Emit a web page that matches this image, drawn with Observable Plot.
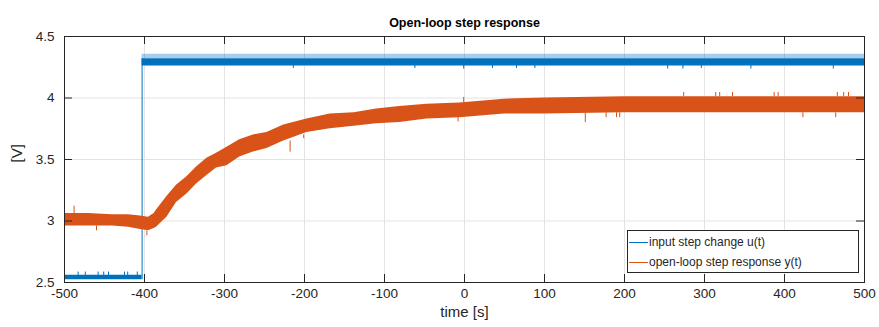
<!DOCTYPE html>
<html><head><meta charset="utf-8">
<script src="https://cdn.jsdelivr.net/npm/d3@7"></script>
<script src="https://cdn.jsdelivr.net/npm/@observablehq/plot@0.6"></script>
<style>
body{margin:0;background:#fff;}
#wrap{position:relative;width:879px;height:327px;font-family:"Liberation Sans",Arial,Helvetica,sans-serif;}
#legend{position:absolute;left:627px;top:230px;width:232px;height:43px;border:1px solid #262626;background:#fff;font-size:12px;color:#262626;box-sizing:border-box;}
.item{position:absolute;left:1px;height:16px;display:flex;align-items:center;white-space:nowrap;}
.swatch{width:19px;height:0;border-top:1px solid;margin-right:1px;}
</style></head>
<body><div id="wrap"><div id="legend"></div></div>
<script>
// ---- texts ----
const title = "Open-loop step response";
const xLabel = "time [s]";
const yLabel = "[V]";
const seriesNames = ["input step change u(t)", "open-loop step response y(t)"];
const seriesColors = ["#0072BD", "#D95319"];

// ---- ticks ----
const xTicks = [-500, -400, -300, -200, -100, 0, 100, 200, 300, 400, 500];
const xTickLabels = ["-500", "-400", "-300", "-200", "-100", "0", "100", "200", "300", "400", "500"];
const yTicks = [2.5, 3, 3.5, 4, 4.5];
const yTickLabels = ["2.5", "3", "3.5", "4", "4.5"];

// ---- input u(t): noisy band (lower / upper envelope) ----
const stepTime = -403;
const uLowT = [-500, -403];
const uLowLo = [2.523, 2.523];
const uLowHi = [2.558, 2.558];
const uHighT = [-403, 500];
const uHighLo = [4.26, 4.26];
const uHighHi = [4.32, 4.32];
const uFuzzHi = [4.355, 4.355];
// isolated spikes of u(t)
const uSpikeT  = [-483, -474, -458, -451, -445, -425, -421, -409, -214, -62, -1, 35, 65, 88, 254, 273, 296, 358, 461];
const uSpikeY1 = [2.55, 2.55, 2.55, 2.55, 2.55, 2.55, 2.55, 2.55, 4.27, 4.27, 4.27, 4.27, 4.27, 4.27, 4.27, 4.27, 4.27, 4.27, 4.27];
const uSpikeY2 = [2.585, 2.585, 2.585, 2.585, 2.585, 2.585, 2.585, 2.585, 4.24, 4.24, 4.235, 4.24, 4.24, 4.24, 4.235, 4.235, 4.24, 4.235, 4.235];

// ---- output y(t): noisy band (lower / upper envelope) ----
const yT  = [-500, -470, -440, -420, -405, -395, -388, -385, -372, -360, -347, -335, -322, -310, -297, -281, -264, -247, -226, -197, -168, -138, -110, -81, -47, -6, 50, 100, 200, 300, 400, 500];
const yLo = [2.96, 2.96, 2.96, 2.95, 2.93, 2.92, 2.94, 2.95, 3.03, 3.15, 3.22, 3.30, 3.37, 3.43, 3.45, 3.52, 3.56, 3.59, 3.65, 3.72, 3.75, 3.77, 3.79, 3.80, 3.83, 3.84, 3.87, 3.87, 3.88, 3.88, 3.88, 3.88];
const yHi = [3.06, 3.06, 3.05, 3.05, 3.04, 3.03, 3.06, 3.09, 3.20, 3.29, 3.36, 3.44, 3.51, 3.55, 3.60, 3.66, 3.70, 3.72, 3.78, 3.83, 3.87, 3.88, 3.91, 3.93, 3.95, 3.96, 3.99, 4.00, 4.01, 4.01, 4.01, 4.01];
// isolated spikes of y(t)
const ySpikeT  = [-488, -460, -397, -218, -201, -8, -1, 151, 177, 190, 194, 274, 314, 319, 335, 387, 392, 423, 464, 466, 474, 480];
const ySpikeY1 = [3.06, 2.96, 2.92, 3.65, 3.70, 3.84, 3.96, 3.88, 3.88, 3.88, 3.88, 4.01, 4.01, 4.01, 4.01, 4.01, 4.01, 3.88, 3.88, 4.01, 4.01, 4.01];
const ySpikeY2 = [3.12, 2.92, 2.88, 3.56, 3.67, 3.806, 4.005, 3.80, 3.84, 3.84, 3.84, 4.045, 4.045, 4.045, 4.045, 4.045, 4.045, 3.84, 3.84, 4.045, 4.045, 4.045];

// ---- build tables ----
const uBand = [
  ...uLowT.map((t, i) => ({t, lo: uLowLo[i], hi: uLowHi[i], seg: "low"})),
  ...uHighT.map((t, i) => ({t, lo: uHighLo[i], hi: uHighHi[i], seg: "high"}))
];
const uFuzz = uHighT.map((t, i) => ({t, lo: uHighHi[i], hi: uFuzzHi[i]}));
const uSpikes = uSpikeT.map((t, i) => ({t, y1: uSpikeY1[i], y2: uSpikeY2[i]}));
const yBand = yT.map((t, i) => ({t, lo: yLo[i], hi: yHi[i]}));
const ySpikes = ySpikeT.map((t, i) => ({t, y1: ySpikeY1[i], y2: ySpikeY2[i]}));

const W = 879, H = 327, mL = 64, mR = 15, mT = 36, mB = 45;
const fw = W - mL - mR, fh = H - mT - mB, tickLen = 8;
const ink = "#262626", gridColor = "#e3e3e3";

const chart = Plot.plot({
  width: W, height: H,
  marginLeft: mL, marginRight: mR, marginTop: mT, marginBottom: mB,
  style: {fontFamily: '"Liberation Sans", Arial, Helvetica, sans-serif', fontSize: "13px", color: ink, background: "#fff", overflow: "visible"},
  x: {domain: [-500, 500], ticks: xTicks},
  y: {domain: [2.5, 4.5], ticks: yTicks},
  marks: [
    Plot.gridX(xTicks, {stroke: gridColor, strokeOpacity: 1}),
    Plot.gridY(yTicks, {stroke: gridColor, strokeOpacity: 1}),
    // input u(t)
    Plot.ruleX([stepTime], {y1: uLowLo[0], y2: uHighHi[0], stroke: seriesColors[0], strokeWidth: 1}),
    Plot.areaY(uFuzz, {x: "t", y1: "lo", y2: "hi", fill: seriesColors[0], fillOpacity: 0.35}),
    Plot.areaY(uBand, {x: "t", y1: "lo", y2: "hi", z: "seg", fill: seriesColors[0]}),
    Plot.ruleX(uSpikes, {x: "t", y1: "y1", y2: "y2", stroke: seriesColors[0], strokeWidth: 1}),
    // output y(t)
    Plot.areaY(yBand, {x: "t", y1: "lo", y2: "hi", fill: seriesColors[1]}),
    Plot.ruleX(ySpikes, {x: "t", y1: "y1", y2: "y2", stroke: seriesColors[1], strokeWidth: 1}),
    // box and inward ticks
    Plot.frame({stroke: ink, strokeWidth: 1}),
    Plot.tickX(xTicks, {x: d => d, stroke: ink, insetTop: fh - tickLen}),
    Plot.tickX(xTicks, {x: d => d, stroke: ink, insetBottom: fh - tickLen}),
    Plot.tickY(yTicks, {y: d => d, stroke: ink, insetRight: fw - tickLen}),
    Plot.tickY(yTicks, {y: d => d, stroke: ink, insetLeft: fw - tickLen}),
    Plot.axisX(xTicks, {tickSize: 0, tickPadding: 6, fontSize: 13.5, label: null, tickFormat: d => xTickLabels[xTicks.indexOf(d)]}),
    Plot.axisY(yTicks, {tickSize: 0, tickPadding: 10, fontSize: 13.5, label: null, tickFormat: d => yTickLabels[yTicks.indexOf(d)]}),
    // labels
    Plot.text([title], {text: d => d, frameAnchor: "top", dy: -18, fontWeight: "bold", fontSize: 12.5, fill: "#000"}),
    Plot.text([xLabel], {text: d => d, frameAnchor: "bottom", dy: 34, fontSize: 15, fill: ink}),
    Plot.text([yLabel], {text: d => d, frameAnchor: "left", dx: -47, dy: 3, rotate: -90, fontSize: 15, fill: ink})
  ]
});
document.getElementById("wrap").prepend(chart);

// legend (inside the axes, bottom right)
const legend = document.getElementById("legend");
seriesNames.forEach((name, i) => {
  const it = document.createElement("div");
  it.className = "item";
  it.style.top = (i === 0 ? 3 : 23) + "px";
  const sw = document.createElement("span");
  sw.className = "swatch";
  sw.style.borderTopColor = seriesColors[i];
  const tx = document.createElement("span");
  tx.textContent = name;
  it.append(sw, tx);
  legend.append(it);
});
</script>
</body></html>
